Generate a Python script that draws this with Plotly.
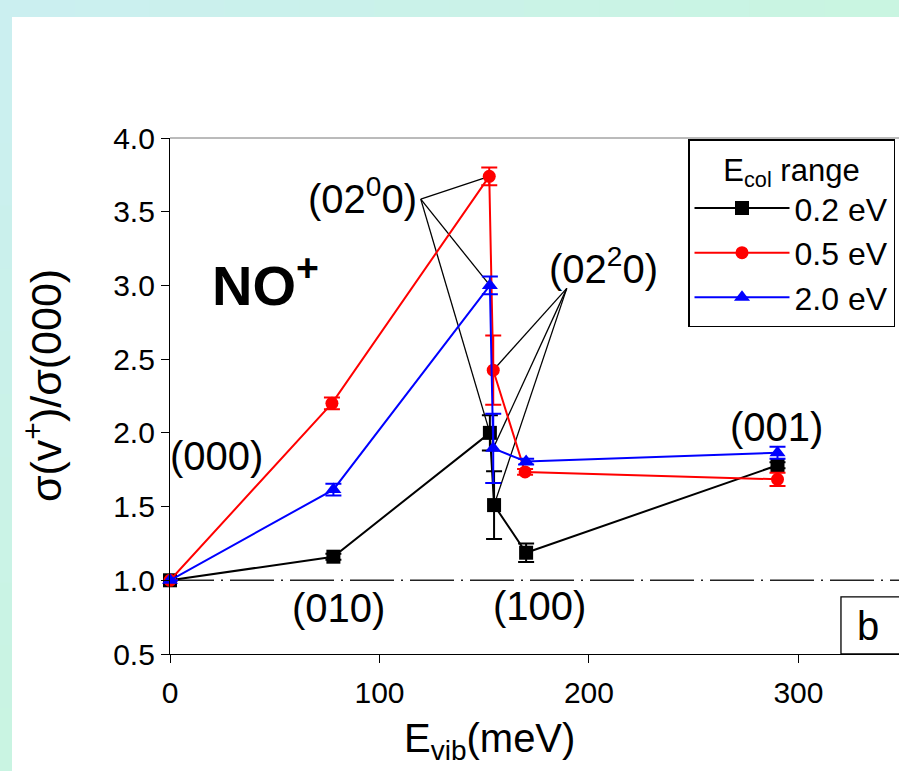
import plotly.graph_objects as go

# ---------------- data ----------------
x_02 = [0, 78, 152.7, 154.7, 170, 290]
y_02 = [1.0, 1.16, 2.0, 1.51, 1.187, 1.78]
e_02 = [0.0, 0.02, 0.12, 0.23, 0.063, 0.02]

x_05 = [0, 77.3, 152.4, 154.3, 169.5, 290]
y_05 = [1.0, 2.2, 3.74, 2.425, 1.735, 1.685]
e_05 = [0.0, 0.04, 0.06, 0.235, 0.02, 0.045]

x_20 = [0, 78, 152.7, 154.3, 170, 290]
y_20 = [1.0, 1.615, 3.0, 1.895, 1.805, 1.865]
e_20 = [0.0, 0.04, 0.06, 0.235, 0.02, 0.04]

series_names = ["0.2 eV", "0.5 eV", "2.0 eV"]
series_colors = ["#000000", "#ff0000", "#0000ff"]
series_symbols = ["square", "circle", "triangle-up"]

x_ticks = [0, 100, 200, 300]
x_ticklabels = ["0", "100", "200", "300"]
y_ticks = [0.5, 1.0, 1.5, 2.0, 2.5, 3.0, 3.5, 4.0]
y_ticklabels = ["0.5", "1.0", "1.5", "2.0", "2.5", "3.0", "3.5", "4.0"]
x_range = [0, 348]
y_range = [0.5, 4.0]

FONT = "Arial, Liberation Sans, sans-serif"
TICKSIZE = 30

fig = go.Figure()
for xs, ys, es, name, col, sym in zip(
    [x_02, x_05, x_20], [y_02, y_05, y_20], [e_02, e_05, e_20],
    series_names, series_colors, series_symbols):
    fig.add_trace(go.Scatter(
        x=xs, y=ys, name=name, mode="lines+markers",
        line=dict(color=col, width=2),
        marker=dict(symbol=sym, size=14 if sym != "circle" else 13, color=col,
                    line=dict(width=0)),
        error_y=dict(type="data", array=es, visible=True, color=col,
                     thickness=2, width=8),
        cliponaxis=False,
    ))

# ---------------- layout ----------------
W, H = 899, 771
L, R, T, B = 170, 0, 138, 117
pw, ph = W - L - R, H - T - B


def px_x(p):
    return (p - L) / pw


def px_y(p):
    return (H - B - p) / ph


shapes = []
# background frame gradient (decoration)
c_tl = (203, 239, 241)
c_tr = (201, 245, 224)
c_bl = (201, 244, 225)
n = 12
for i in range(n):
    t = (i + 0.5) / n
    c = tuple(int(round(a + (b - a) * t)) for a, b in zip(c_tl, c_tr))
    shapes.append(dict(type="rect", xref="paper", yref="paper", layer="below",
                       x0=px_x(W * i / n), x1=px_x(W * (i + 1) / n) + 0.002,
                       y0=px_y(17), y1=px_y(-2),
                       fillcolor="rgb(%d,%d,%d)" % c, line=dict(width=0)))
    c2 = tuple(int(round(a + (b - a) * t)) for a, b in zip(c_tl, c_bl))
    shapes.append(dict(type="rect", xref="paper", yref="paper", layer="below",
                       x0=px_x(-2), x1=px_x(12),
                       y0=px_y(17 + (H - 17) * (i + 1) / n) - 0.002,
                       y1=px_y(17 + (H - 17) * i / n),
                       fillcolor="rgb(%d,%d,%d)" % c2, line=dict(width=0)))

# top frame line
shapes.append(dict(type="line", xref="paper", yref="paper", x0=0, x1=1,
                   y0=1, y1=1, line=dict(color="#777777", width=1)))

# dashed reference line at 1.0
shapes.append(dict(type="line", xref="paper", yref="y", x0=0, x1=1,
                   y0=1.0, y1=1.0, layer="below",
                   line=dict(color="#222222", width=1.4,
                             dash="44px,7px,2px,7px")))

# leader lines for (02^0 0)
s0 = (119.7, 3.585)
for xs, ys in [(x_05, y_05), (x_20, y_20), (x_02, y_02)]:
    shapes.append(dict(type="line", xref="x", yref="y", layer="below",
                       x0=s0[0], y0=s0[1], x1=xs[2], y1=ys[2],
                       line=dict(color="black", width=1.3)))
# leader lines for (02^2 0)
s2 = (189.4, 2.98)
for xs, ys in [(x_05, y_05), (x_20, y_20), (x_02, y_02)]:
    shapes.append(dict(type="line", xref="x", yref="y", layer="below",
                       x0=s2[0], y0=s2[1], x1=xs[3], y1=ys[3],
                       line=dict(color="black", width=1.3)))

# "b" box
shapes.append(dict(type="rect", xref="x", yref="y", x0=320.3, x1=360,
                   y0=0.5, y1=0.887, line=dict(color="black", width=1.3),
                   fillcolor="white"))

ann = []


def txt(x, y, s, size=40, **kw):
    d = dict(x=x, y=y, xref="x", yref="y", text=s, showarrow=False,
             font=dict(family=FONT, size=size, color="black"))
    d.update(kw)
    ann.append(d)


txt(22, 1.843, "(000)")
txt(80.2, 0.813, "(010)")
txt(176.6, 0.826, "(100)")
txt(289.3, 2.04, "(001)")
txt(119.0, 3.61, "(02<sup>0</sup>0)", xanchor="right")
txt(207.0, 3.13, "(02<sup>2</sup>0)")
txt(45.5, 3.03, "<b>NO<sup>+</sup></b>", size=56)
txt(333, 0.69, "b", size=40)

# axis titles
ann.append(dict(x=px_x(489), y=px_y(741), xref="paper", yref="paper",
                xanchor="center", yanchor="middle",
                text="E<sub>vib</sub>(meV)", showarrow=False,
                font=dict(family=FONT, size=40, color="black")))
ann.append(dict(x=px_x(43), y=px_y(386), xref="paper", yref="paper",
                xanchor="center", yanchor="middle",
                text="σ(v<sup>+</sup>)/σ(000)", showarrow=False, textangle=-90,
                font=dict(family=FONT, size=43, color="black")))

TICKFONT = dict(family=FONT, size=TICKSIZE, color="black")

fig.update_layout(
    width=W, height=H,
    margin=dict(l=L, r=R, t=T, b=B, pad=0, autoexpand=False),
    paper_bgcolor="white", plot_bgcolor="white",
    font=dict(family=FONT, size=30, color="black"),
    shapes=shapes, annotations=ann,
    showlegend=True,
    legend=dict(
        title=dict(text="E<sub>col</sub> range",
                   font=dict(family=FONT, size=31, color="black"),
                   side="top center"),
        x=px_x(688), y=px_y(139), xanchor="left", yanchor="top",
        bgcolor="white", bordercolor="black", borderwidth=1.5,
        font=dict(family=FONT, size=32, color="black"),
        tracegroupgap=0, itemwidth=95,
    ),
    xaxis=dict(range=x_range, tickmode="array", tickvals=x_ticks,
               ticktext=x_ticklabels, tickfont=TICKFONT,
               ticklabelstandoff=4,
               ticks="outside", ticklen=8, tickwidth=1.3, tickcolor="black",
               showline=True, linecolor="black", linewidth=1.3,
               showgrid=False, zeroline=False),
    yaxis=dict(range=y_range, tickmode="array", tickvals=y_ticks,
               ticktext=y_ticklabels, tickfont=TICKFONT,
               ticks="outside", ticklen=8, tickwidth=1.3,
               tickcolor="black", showline=True, linecolor="black",
               linewidth=1.3, showgrid=False, zeroline=False),
)

fig.write_html("out.html")
